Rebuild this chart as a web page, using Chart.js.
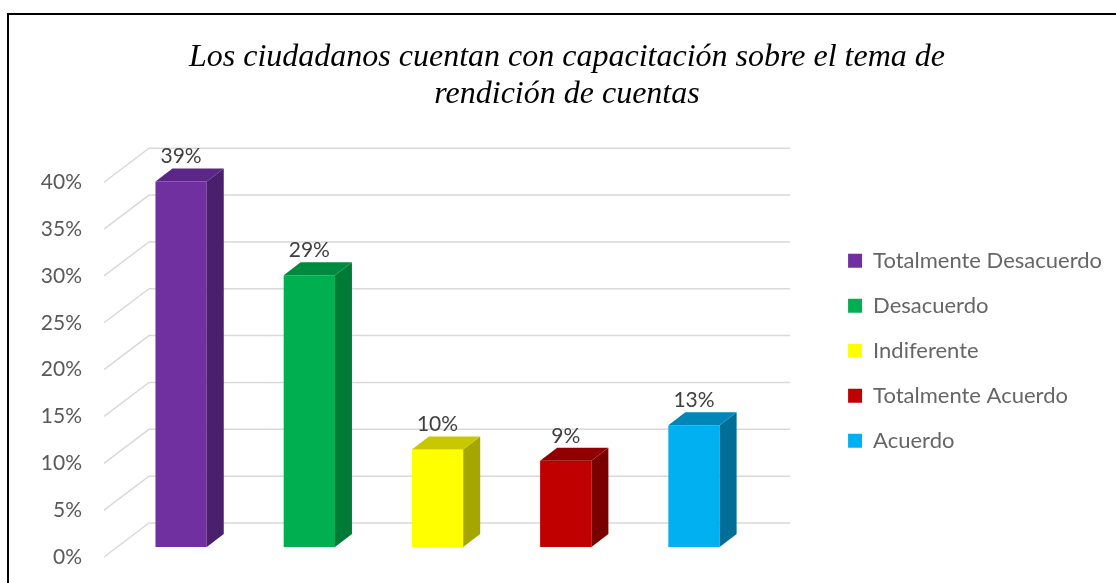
<!DOCTYPE html>
<html lang="es">
<head>
<meta charset="utf-8">
<title>Capacitación sobre rendición de cuentas</title>
<script src="https://cdn.jsdelivr.net/npm/chart.js@4/dist/chart.umd.min.js"></script>
<style>
  html, body { margin: 0; padding: 0; background: #fff; overflow: hidden; }
  #wrap { position: relative; width: 1116px; height: 583px; }
  #frame { position: absolute; left: 7px; top: 13px; width: 1200px; height: 700px; border-left: 2px solid #000; border-top: 2px solid #000; }
  #chart { position: absolute; left: 0; top: 0; }
</style>
</head>
<body>
<div id="wrap">
  <div id="frame"></div>
  <canvas id="chart" width="1116" height="583"></canvas>
</div>
<script>
// data
const categories = ["Totalmente Desacuerdo", "Desacuerdo", "Indiferente", "Totalmente Acuerdo", "Acuerdo"]
const values = [39, 29, 10.4, 9.2, 13]
const yMin = 0
const yMax = 40
const yStep = 5

// face colours: front / side / top
const frontColors = ["#7030a0", "#00b050", "#ffff00", "#c00000", "#00b0f0"]
const sideColors = ["#4a1f6b", "#007a37", "#a6a600", "#7a0000", "#006e96"]
const topColors = ["#5a2787", "#008a3f", "#c8c800", "#900000", "#0086b8"]

// 3d look (pixels)
const FLOOR = { x: 45, y: 34 } // depth of the floor / side walls
const INSET = { x: 13, y: 10 } // bar front face behind the floor's front edge
const BAR = { x: 17, y: 13 } // depth of a bar

const depthPlugin = {
  id: "depth3d",
  beforeDatasetsDraw(chart) {
    const { ctx, chartArea, scales } = chart
    const yScale = scales.y
    ctx.save()
    ctx.strokeStyle = "#d9d9d9"
    ctx.lineWidth = 1.5
    yScale.ticks.forEach((t) => {
      const py = yScale.getPixelForValue(t.value)
      const fx = chartArea.left - INSET.x
      const fy = py + INSET.y
      ctx.beginPath()
      ctx.moveTo(fx, fy)
      ctx.lineTo(fx + FLOOR.x, fy - FLOOR.y)
      ctx.lineTo(chartArea.right - INSET.x + FLOOR.x, fy - FLOOR.y)
      ctx.stroke()
    })
    ctx.restore()
  },
  afterDatasetsDraw(chart) {
    const { ctx } = chart
    const meta = chart.getDatasetMeta(0)
    const poly = (pts, color) => {
      ctx.fillStyle = color
      ctx.beginPath()
      pts.forEach(([px, py], k) => (k ? ctx.lineTo(px, py) : ctx.moveTo(px, py)))
      ctx.closePath()
      ctx.fill()
    }
    ctx.save()
    meta.data.forEach((bar, i) => {
      const { x, y, base, width } = bar.getProps(["x", "y", "base", "width"], true)
      const l = x - width / 2
      const r = x + width / 2
      poly([[r, y], [r + BAR.x, y - BAR.y], [r + BAR.x, base - BAR.y], [r, base]], sideColors[i])
      poly([[l, y], [l + BAR.x, y - BAR.y], [r + BAR.x, y - BAR.y], [r, y]], topColors[i])

      ctx.fillStyle = "#404040"
      ctx.font = "21px Lato"
      ctx.textAlign = "center"
      ctx.textBaseline = "middle"
      ctx.fillText(Math.round(values[i]) + "%", x, y - 25)
    })
    ctx.restore()
  },
}

const ctx = document.getElementById("chart").getContext("2d")

new Chart(ctx, {
  type: "bar",
  data: {
    labels: categories,
    datasets: [
      {
        data: values,
        backgroundColor: frontColors,
        borderWidth: 0,
        barPercentage: 0.4,
        categoryPercentage: 1,
      },
    ],
  },
  options: {
    responsive: false,
    animation: false,
    devicePixelRatio: 1,
    layout: { padding: { left: 22, right: 4, top: 0, bottom: 36 } },
    plugins: {
      title: {
        display: true,
        text: ["Los ciudadanos cuentan con capacitación sobre el tema de", "rendición de cuentas"],
        color: "#000",
        font: { family: "'Liberation Serif', 'Times New Roman', serif", style: "italic", weight: "normal", size: 32, lineHeight: 1.16 },
        padding: { top: 39, bottom: 59 },
      },
      legend: {
        display: true,
        position: "right",
        fullSize: false,
        maxWidth: 400,
        align: "start",
        // empty title only pushes the items down
        title: { display: true, text: "", padding: { top: 40, bottom: 0 } },
        labels: {
          color: "#595959",
          font: { family: "Lato", size: 22 },
          boxWidth: 14,
          boxHeight: 14,
          padding: 23,
          generateLabels: () =>
            categories.map((c, i) => ({
              text: c,
              fillStyle: frontColors[i],
              strokeStyle: frontColors[i],
              lineWidth: 0,
              index: i,
            })),
        },
      },
      tooltip: { enabled: false },
    },
    scales: {
      x: { display: false },
      y: {
        min: yMin,
        max: yMax,
        grid: { display: false, drawTicks: false },
        border: { display: false },
        ticks: {
          stepSize: yStep,
          color: "#595959",
          font: { family: "Lato", size: 21 },
          padding: 35,
          labelOffset: 10,
          callback: (v) => v + "%",
        },
        afterFit: (s) => {
          s.width = 95
          s.paddingTop = 0
          s.paddingBottom = 0
        },
      },
      // empty space between the plot and the legend
      gap: {
        type: "linear",
        position: "right",
        display: true,
        grid: { display: false, drawTicks: false },
        border: { display: false },
        ticks: { display: false },
        afterFit: (s) => {
          s.width = 67
        },
      },
    },
  },
  plugins: [depthPlugin],
})
</script>
</body>
</html>
